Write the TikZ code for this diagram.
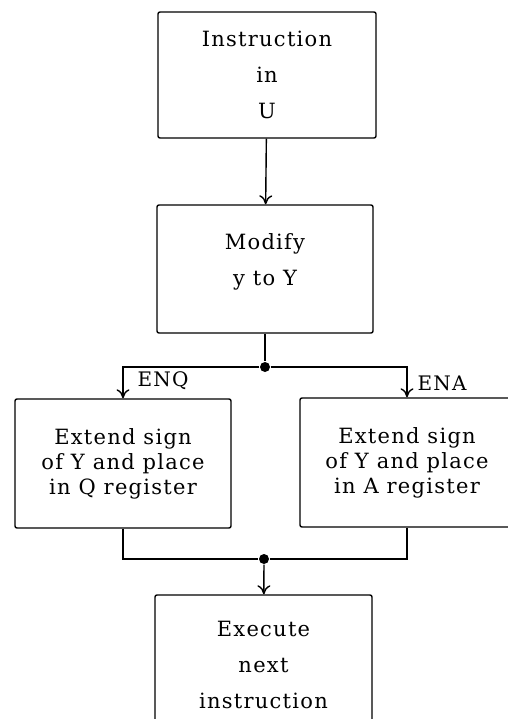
\documentclass[tikz,border=0pt]{standalone}
\usepackage{fontspec}
\setmainfont{DejaVu Serif}[LetterSpace=6]
\usepackage{tikz}
\usetikzlibrary{arrows.meta}

\begin{document}
\begin{tikzpicture}[x=1pt, y=-1pt, line width=1.4pt,
    >={To[length=9pt,width=13pt]},
    block/.style={rectangle, draw=black, rounded corners=2pt, align=center, inner sep=0pt},
    loose/.style={font=\fontsize{21}{36}\selectfont},
    tight/.style={font=\fontsize{21}{25}\selectfont},
    dot/.style={circle, fill=black, inner sep=0pt, minimum size=10pt},
    tag/.style={font=\fontsize{20}{22}\selectfont, inner sep=0pt}]
\useasboundingbox (0,0) rectangle (507,719);

\node[block, loose, minimum width=218pt, minimum height=126pt] (instr) at (267,75) {Instruction\\in\\U};
\node[block, loose, minimum width=216pt, minimum height=128pt, text depth=19pt] (modify) at (265,269) {Modify\\y to Y};
\node[dot] (split) at (265,367) {};

\node[block, tight, minimum width=216pt, minimum height=129pt] (extq) at (123,463.5) {Extend sign\\of Y and place\\in Q register};
\node[block, tight, minimum width=214pt, minimum height=129pt] (exta) at (407,462.5) {Extend sign\\of Y and place\\in A register};
\node[tag] (enq) at (163,381) {ENQ};
\node[tag] (ena) at (442,383) {ENA};

\node[dot] (join) at (264,559) {};
\node[block, loose, minimum width=217pt, minimum height=140pt] (exec) at (263.5,665) {Execute\\next\\instruction};

\draw[->] (instr) -- (modify);
\draw (modify) -- (split);
\draw[->] (split) -| (extq);
\draw[->] (split) -| (exta);
\draw (extq) |- (join);
\draw (exta) |- (join);
\draw[->] (join) -- (exec);
\end{tikzpicture}
\end{document}
